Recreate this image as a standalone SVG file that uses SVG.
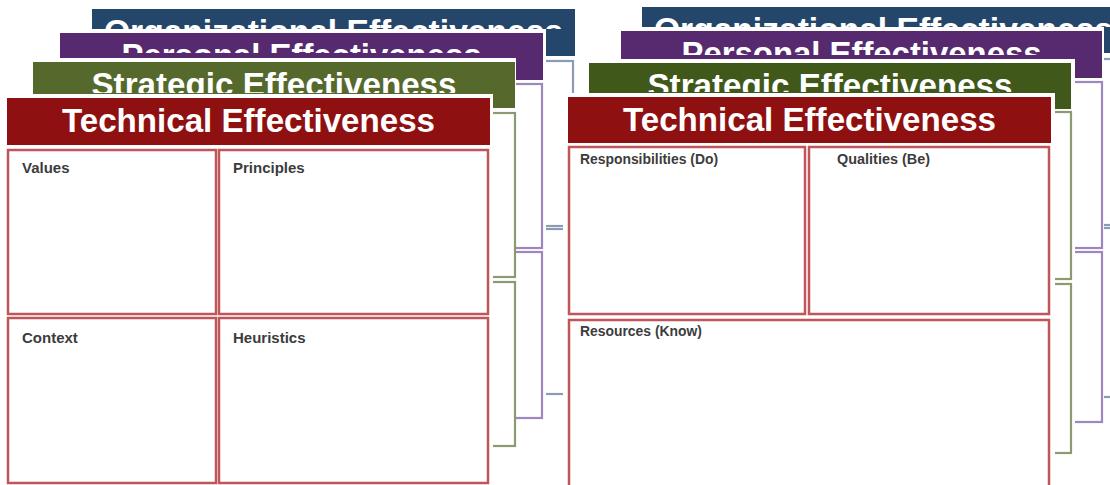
<svg xmlns="http://www.w3.org/2000/svg" width="1110" height="485" viewBox="0 0 1110 485">
<style>
  .bg { fill: #ffffff; }
  .title { font-family: "Liberation Sans", Arial, sans-serif; font-weight: bold; font-size: 33px; fill: #ffffff; text-anchor: middle; }
  .lbl { font-family: "Liberation Sans", Arial, sans-serif; font-weight: bold; fill: #3c3c3c; }
  .cell { fill: #ffffff; stroke: #c0555a; stroke-width: 2.5; }
  .gbox { fill: none; stroke: #8c9a72; stroke-width: 2.2; }
  .pbox { fill: none; stroke: #9c87be; stroke-width: 2.2; }
  .bbox { fill: none; stroke: #8a9cb3; stroke-width: 2.2; }
  .red { fill: #8f1010; }
  .blue { fill: #24466b; }
  .purple { fill: #57296f; }
</style>
<defs>
  <clipPath id="c-lorg"><rect x="92" y="9" width="483" height="20"/></clipPath>
  <clipPath id="c-lper"><rect x="60" y="33" width="483" height="20"/></clipPath>
  <clipPath id="c-lstr"><rect x="33" y="62" width="482" height="31"/></clipPath>
  <clipPath id="c-rorg"><rect x="642" y="7" width="483" height="20"/></clipPath>
  <clipPath id="c-rper"><rect x="621" y="31" width="481" height="24"/></clipPath>
  <clipPath id="c-rstr"><rect x="589" y="63" width="482" height="29"/></clipPath>
</defs>
<rect x="0" y="0" width="1110" height="485" fill="#ffffff"/>

<!-- LEFT STACK -->
<g id="left-organizational">
  <rect class="bg" x="88" y="5" width="489" height="395"/>
  <rect class="blue" x="92" y="9" width="483" height="47"/>
  <text class="title" x="333.5" y="43" textLength="459" lengthAdjust="spacingAndGlyphs" clip-path="url(#c-lorg)">Organizational Effectiveness</text>
  <rect class="bbox" x="96" y="61" width="477" height="165"/>
  <rect class="bbox" x="96" y="229" width="477" height="165"/>
</g>
<g id="left-personal">
  <rect class="bg" x="56" y="29" width="490" height="396"/>
  <rect class="purple" x="60" y="33" width="483" height="47"/>
  <text class="title" x="301.5" y="67" textLength="360" lengthAdjust="spacingAndGlyphs" clip-path="url(#c-lper)">Personal Effectiveness</text>
  <rect class="pbox" x="64" y="84" width="478" height="164"/>
  <rect class="pbox" x="64" y="252" width="478" height="166"/>
</g>
<g id="left-strategic">
  <rect class="bg" x="29" y="58" width="487" height="396"/>
  <rect x="33" y="62" width="482" height="46" fill="#56692c"/>
  <text class="title" x="274" y="96" textLength="365" lengthAdjust="spacingAndGlyphs" clip-path="url(#c-lstr)">Strategic Effectiveness</text>
  <rect class="gbox" x="37" y="113" width="478" height="164"/>
  <rect class="gbox" x="37" y="282" width="478" height="164"/>
</g>
<g id="left-technical">
  <rect class="bg" x="3" y="94" width="490" height="400"/>
  <rect class="red" x="7" y="98" width="483" height="47"/>
  <text class="title" x="248.5" y="132" textLength="373" lengthAdjust="spacingAndGlyphs">Technical Effectiveness</text>
  <g id="cell-values">
    <rect class="cell" x="8" y="150" width="208" height="164"/>
    <text class="lbl" x="22" y="173" font-size="15">Values</text>
  </g>
  <g id="cell-principles">
    <rect class="cell" x="219" y="150" width="269" height="164"/>
    <text class="lbl" x="233" y="173" font-size="15">Principles</text>
  </g>
  <g id="cell-context">
    <rect class="cell" x="8" y="318" width="208" height="165"/>
    <text class="lbl" x="22" y="343" font-size="15">Context</text>
  </g>
  <g id="cell-heuristics">
    <rect class="cell" x="219" y="318" width="269" height="165"/>
    <text class="lbl" x="233" y="343" font-size="15">Heuristics</text>
  </g>
</g>

<!-- RIGHT STACK -->
<g id="right-organizational">
  <rect class="bg" x="638" y="3" width="500" height="420"/>
  <rect class="blue" x="642" y="7" width="483" height="46"/>
  <text class="title" x="883.5" y="41" textLength="459" lengthAdjust="spacingAndGlyphs" clip-path="url(#c-rorg)">Organizational Effectiveness</text>
  <rect class="bbox" x="646" y="59" width="477" height="166"/>
  <rect class="bbox" x="646" y="228" width="477" height="169"/>
</g>
<g id="right-personal">
  <rect class="bg" x="617" y="27" width="487" height="400"/>
  <rect class="purple" x="621" y="31" width="481" height="47"/>
  <text class="title" x="861.5" y="65" textLength="360" lengthAdjust="spacingAndGlyphs" clip-path="url(#c-rper)">Personal Effectiveness</text>
  <rect class="pbox" x="625" y="82" width="477" height="166"/>
  <rect class="pbox" x="625" y="252" width="477" height="170"/>
</g>
<g id="right-strategic">
  <rect class="bg" x="585" y="59" width="490" height="400"/>
  <rect x="589" y="63" width="482" height="46" fill="#40591b"/>
  <text class="title" x="830" y="97" textLength="365" lengthAdjust="spacingAndGlyphs" clip-path="url(#c-rstr)">Strategic Effectiveness</text>
  <rect class="gbox" x="593" y="112" width="478" height="167"/>
  <rect class="gbox" x="593" y="284" width="478" height="169"/>
</g>
<g id="right-technical">
  <rect class="bg" x="563" y="93" width="492" height="400"/>
  <rect class="red" x="568" y="97" width="483" height="46"/>
  <text class="title" x="809.5" y="131" textLength="373" lengthAdjust="spacingAndGlyphs">Technical Effectiveness</text>
  <g id="cell-responsibilities">
    <rect class="cell" x="569" y="147" width="236" height="167"/>
    <text class="lbl" x="580" y="164" font-size="14" textLength="138" lengthAdjust="spacingAndGlyphs">Responsibilities (Do)</text>
  </g>
  <g id="cell-qualities">
    <rect class="cell" x="809" y="147" width="240" height="167"/>
    <text class="lbl" x="837" y="164" font-size="14" textLength="93" lengthAdjust="spacingAndGlyphs">Qualities (Be)</text>
  </g>
  <g id="cell-resources">
    <rect class="cell" x="569" y="320" width="480" height="175"/>
    <text class="lbl" x="580" y="336" font-size="14" textLength="122" lengthAdjust="spacingAndGlyphs">Resources (Know)</text>
  </g>
</g>
</svg>
